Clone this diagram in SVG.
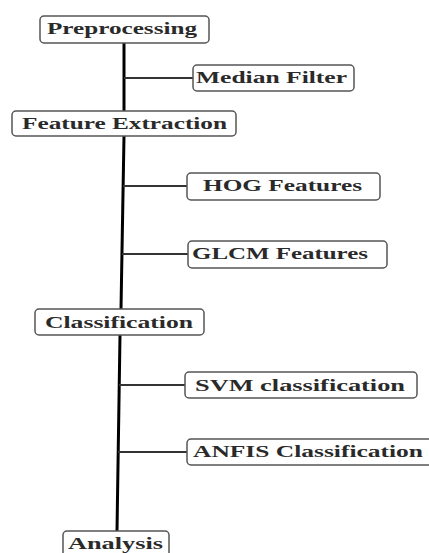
<svg xmlns="http://www.w3.org/2000/svg" width="429" height="553" viewBox="0 0 429 553">
<style>
.box{fill:#fff;stroke:#555;stroke-width:1.5}
.t{font-family:"Liberation Serif","Times New Roman",serif;font-size:17px;font-weight:bold;fill:#2a2a2a}
.trunk{stroke:#000;stroke-width:3;fill:none}
.br{stroke:#333;stroke-width:2;fill:none}
</style>
<rect width="429" height="553" fill="#fff"/>
<g id="connectors">
<polyline class="trunk" points="124,43 124,111"/>
<polyline class="trunk" points="124,136 121,309"/>
<polyline class="trunk" points="120,335 117,531"/>
<line class="br" x1="124" y1="78" x2="193" y2="78"/>
<line class="br" x1="123" y1="186" x2="187" y2="186"/>
<line class="br" x1="122" y1="254" x2="188" y2="254"/>
<line class="br" x1="119" y1="385" x2="185" y2="385"/>
<line class="br" x1="118" y1="452" x2="187" y2="452"/>
</g>
<g id="preprocessing">
<rect class="box" x="40" y="16" width="169" height="27" rx="4"/>
<text class="t" x="47" y="34" textLength="150" lengthAdjust="spacingAndGlyphs">Preprocessing</text>
</g>
<g id="median">
<rect class="box" x="193" y="65" width="161" height="26" rx="4"/>
<text class="t" x="196" y="83" textLength="151" lengthAdjust="spacingAndGlyphs">Median Filter</text>
</g>
<g id="feature">
<rect class="box" x="12" y="111" width="224" height="25" rx="4"/>
<text class="t" x="22" y="129" textLength="205" lengthAdjust="spacingAndGlyphs">Feature Extraction</text>
</g>
<g id="hog">
<rect class="box" x="187" y="173" width="193" height="27" rx="4"/>
<text class="t" x="203" y="191" textLength="159" lengthAdjust="spacingAndGlyphs">HOG Features</text>
</g>
<g id="glcm">
<rect class="box" x="188" y="241" width="199" height="27" rx="4"/>
<text class="t" x="192" y="259" textLength="176" lengthAdjust="spacingAndGlyphs">GLCM Features</text>
</g>
<g id="classification">
<rect class="box" x="35" y="309" width="169" height="26" rx="4"/>
<text class="t" x="45" y="328" textLength="148" lengthAdjust="spacingAndGlyphs">Classification</text>
</g>
<g id="svm">
<rect class="box" x="185" y="372" width="232" height="26" rx="4"/>
<text class="t" x="195" y="391" textLength="210" lengthAdjust="spacingAndGlyphs">SVM classification</text>
</g>
<g id="anfis">
<rect class="box" x="187" y="439" width="250" height="26" rx="4"/>
<text class="t" x="193" y="457" textLength="230" lengthAdjust="spacingAndGlyphs">ANFIS Classification</text>
</g>
<g id="analysis">
<rect class="box" x="63" y="531" width="106" height="30" rx="4"/>
<text class="t" x="68" y="549" textLength="95" lengthAdjust="spacingAndGlyphs">Analysis</text>
</g>
</svg>
